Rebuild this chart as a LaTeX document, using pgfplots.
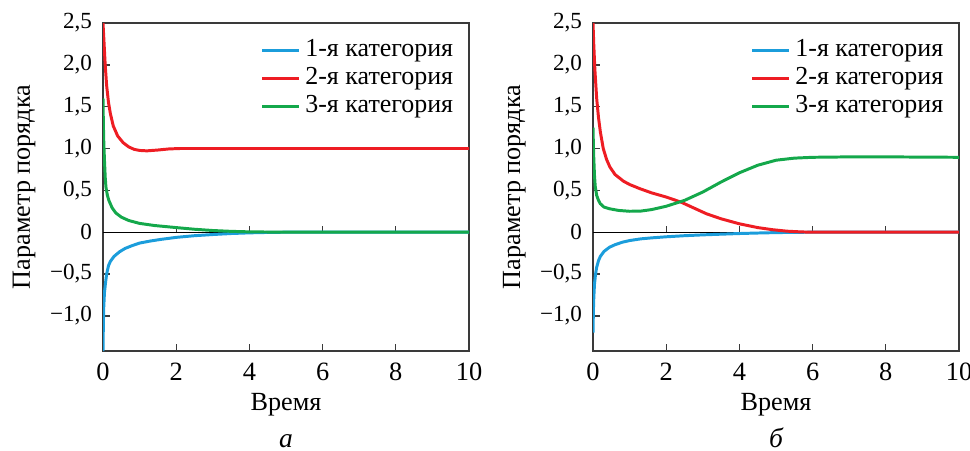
\documentclass[border=0pt]{standalone}
\usepackage{fontspec}
\setmainfont{Liberation Serif}
\newfontfamily\tnr{Liberation Serif}
\usepackage{pgfplots}
\pgfplotsset{compat=1.18}
\definecolor{cblue}{HTML}{1B9DDB}
\definecolor{cred}{HTML}{EE1D23}
\definecolor{cgreen}{HTML}{14A84B}
\definecolor{axgray}{HTML}{3A3A3A}

\pgfplotsset{
  panel/.style={
    scale only axis, width=166.36pt, height=149.09pt,
    xmin=0, xmax=10, ymin=-1.42, ymax=2.5,
    xtick={0,2,4,6,8,10}, xticklabels={0,2,4,6,8,10},
    ytick={-1,-0.5,0,0.5,1,1.5,2,2.5},
    yticklabels={{−1,0},{−0,5},0,{0,5},{1,0},{1,5},{2,0},{2,5}},
    tick align=inside, xtick pos=bottom, ytick pos=left, major tick length=3pt,
    axis line style={line width=0.6pt, draw=axgray},
    tick style={line width=0.6pt, draw=axgray},
    xticklabel style={font=\tnr\fontsize{12}{14}\selectfont, anchor=base, yshift=-13.2pt},
    yticklabel style={font=\tnr\fontsize{10.5}{12}\selectfont, xshift=-1.5pt},
    xlabel={Время}, ylabel={Параметр порядка},
    label style={font=\tnr\fontsize{11.9}{14}\selectfont},
    xlabel style={at={(axis description cs:0.5,-0.18)}, anchor=base},
    ylabel style={at={(axis description cs:-0.1995,0.5)}, anchor=base},
    legend style={at={(rel axis cs:1,1)}, anchor=north east, xshift=-5pt, yshift=-5.9pt,
      draw=none, fill=none, inner sep=0pt, font=\tnr\fontsize{11.8}{13}\selectfont,
      cells={anchor=west}, row sep=0pt,
      nodes={inner xsep=2pt, inner ysep=0pt, text height=9pt, text depth=3.7pt}},
    legend image code/.code={\draw[#1,line width=1.35pt] (0pt,0pt) -- (17pt,0pt);},
    every axis plot/.append style={line width=1.35pt},
  },
}

\begin{document}
\begin{tikzpicture}
\useasboundingbox (-46.82pt,-45.45pt) rectangle (394.09pt,159.55pt);

% panel a
\begin{axis}[panel, at={(0pt,0pt)}, anchor=south west]
\draw[line width=0.5pt, black] (axis cs:0,0) -- (axis cs:10,0);
\draw[line width=0.6pt, axgray]
  (axis cs:2,0) -- ([yshift=3pt]axis cs:2,0)
  (axis cs:4,0) -- ([yshift=3pt]axis cs:4,0)
  (axis cs:6,0) -- ([yshift=3pt]axis cs:6,0)
  (axis cs:8,0) -- ([yshift=3pt]axis cs:8,0);
\addplot[cblue] coordinates {
 (0,-1.42) (0.01,-1.1) (0.02,-0.9) (0.04,-0.72) (0.07,-0.6) (0.1,-0.5) (0.15,-0.4)
 (0.2,-0.35) (0.3,-0.29) (0.45,-0.235) (0.6,-0.195) (0.8,-0.16) (1.0,-0.13)
 (1.3,-0.105) (1.6,-0.085) (2,-0.062) (2.5,-0.042) (3,-0.028) (3.5,-0.016)
 (4,-0.008) (4.5,-0.003) (5,0) (10,0)};
\addplot[cred] coordinates {
 (0,2.5) (0.03,2.25) (0.06,2.0) (0.1,1.75) (0.15,1.55) (0.2,1.42) (0.28,1.27)
 (0.4,1.15) (0.55,1.07) (0.7,1.02) (0.85,0.99) (1.0,0.977) (1.2,0.972) (1.5,0.982)
 (1.8,0.995) (2.1,1.0) (10,1.0)};
\addplot[cgreen] coordinates {
 (0,1.6) (0.01,1.3) (0.02,1.1) (0.04,0.86) (0.06,0.66) (0.08,0.54) (0.12,0.44)
 (0.16,0.38) (0.25,0.29) (0.35,0.23) (0.5,0.18) (0.7,0.14) (1.0,0.105) (1.4,0.08)
 (2,0.055) (2.5,0.035) (3,0.02) (3.5,0.01) (4,0.004) (5,0) (10,0)};
\legend{1-я категория, 2-я категория, 3-я категория}
\end{axis}

% panel b
\begin{axis}[panel, at={(222.73pt,0pt)}, anchor=south west]
\draw[line width=0.5pt, black] (axis cs:0,0) -- (axis cs:10,0);
\draw[line width=0.6pt, axgray]
  (axis cs:2,0) -- ([yshift=3pt]axis cs:2,0)
  (axis cs:4,0) -- ([yshift=3pt]axis cs:4,0)
  (axis cs:6,0) -- ([yshift=3pt]axis cs:6,0)
  (axis cs:8,0) -- ([yshift=3pt]axis cs:8,0);
\addplot[cblue] coordinates {
 (0,-1.2) (0.01,-0.95) (0.02,-0.8) (0.04,-0.62) (0.07,-0.5) (0.1,-0.42) (0.15,-0.34)
 (0.2,-0.29) (0.3,-0.23) (0.45,-0.18) (0.6,-0.15) (0.8,-0.12) (1.0,-0.1) (1.3,-0.08)
 (1.6,-0.068) (2,-0.055) (2.5,-0.042) (3,-0.032) (3.5,-0.024) (4,-0.016) (4.5,-0.01)
 (5,-0.005) (5.5,-0.002) (6,0) (10,0)};
\addplot[cred] coordinates {
 (0,2.5) (0.02,2.25) (0.05,1.95) (0.1,1.6) (0.15,1.37) (0.2,1.2) (0.28,1.0)
 (0.37,0.87) (0.46,0.78) (0.6,0.69) (0.83,0.61) (1.0,0.57) (1.28,0.52) (1.6,0.47)
 (2.0,0.42) (2.4,0.36) (2.8,0.28) (3.1,0.22) (3.5,0.16) (4.0,0.10) (4.5,0.055)
 (4.9,0.03) (5.3,0.012) (5.7,0.003) (6,0) (10,0)};
\addplot[cgreen] coordinates {
 (0,1.25) (0.01,1.05) (0.02,0.9) (0.04,0.68) (0.06,0.55) (0.1,0.44) (0.15,0.38)
 (0.2,0.34) (0.3,0.3) (0.45,0.28) (0.7,0.26) (1.0,0.25) (1.3,0.252) (1.6,0.27)
 (2.0,0.31) (2.5,0.38) (3.0,0.48) (3.5,0.6) (4.0,0.71) (4.5,0.8) (5.0,0.86)
 (5.5,0.885) (6.0,0.895) (7,0.9) (8,0.9) (10,0.895)};
\legend{1-я категория, 2-я категория, 3-я категория}
\end{axis}

\node[anchor=base, font=\tnr\itshape\fontsize{12.5}{14}\selectfont] at (83.18pt,-44pt) {а};
\node[anchor=base, font=\tnr\itshape\fontsize{12.5}{14}\selectfont] at (305.91pt,-44pt) {б};
\end{tikzpicture}
\end{document}
